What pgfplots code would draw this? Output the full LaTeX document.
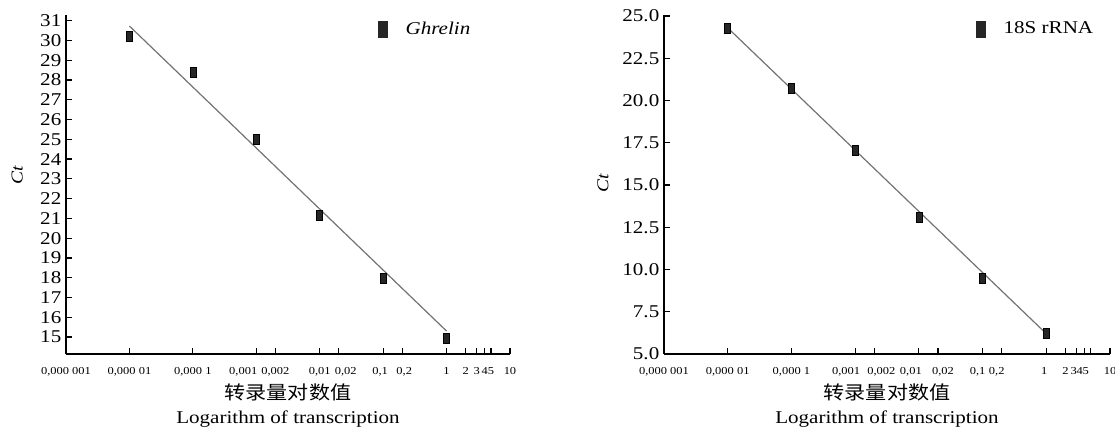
\documentclass[border=0pt]{standalone}
\usepackage{fontspec}
\setmainfont{Liberation Serif}[FakeStretch=1.17]
\newfontfamily\cjk{Noto Sans CJK SC}[FakeStretch=1.13]
\usepackage{pgfplots}
\pgfplotsset{compat=1.18}
\pgfkeys{/pgf/number format/assume math mode=true}

% shift a tick label sideways: #1 = twice the shift
\newcommand{\sx}[2]{\makebox[0pt]{\hspace*{#1}#2}}

\begin{document}
\begin{tikzpicture}
\useasboundingbox (0,0) rectangle (836.25pt,320.25pt);

\begin{axis}[
  at={(49.5pt,54.75pt)}, anchor=south west,
  scale only axis, width=333pt, height=254.25pt,
  xmode=log, xmin=1e-6, xmax=10,
  ymin=14.14, ymax=31.29,
  axis x line*=bottom, axis y line*=left,
  axis line style={line width=1.1pt},
  tick align=inside, major tick length=4.5pt,
  tick style={line width=0.9pt, black},
  xtick={1e-6,1e-5,1e-4,1e-3,2e-3,1e-2,2e-2,0.1,0.2,1,2,3,4,5,10},
  minor xtick={},
  ytick={15,16,...,31},
  xticklabels={{0,000 001},{0,000 01},{0,000 1},\sx{-19.5pt}{0,001},{0,002},{0,01},
    \sx{10.5pt}{0,02},\sx{-4.5pt}{0,1},\sx{3pt}{0,2},1,2,3,4,5,10},
  x tick label style={font=\fontsize{8}{9}\selectfont, yshift=-6.3pt},
  y tick label style={font=\fontsize{13.5}{15}\selectfont},
  xlabel={{\cjk\fontsize{14}{18}\selectfont 转录量对数值}\\Logarithm of transcription},
  xlabel style={font=\fontsize{13.5}{18}\selectfont, align=center,
    at={(axis description cs:0.5,0)}, anchor=north, yshift=-22pt, inner sep=0pt},
  ylabel={\itshape Ct},
  ylabel style={at={(axis description cs:-0.110,0.528)}, anchor=center,
    font=\fontsize{12.5}{14}\selectfont},
  legend style={draw=none, fill=none, inner sep=0pt, anchor=west,
    font=\fontsize{13.5}{15}\selectfont, column sep=11.25pt,
    at={(rel axis cs:0.703,0.959)}},
  clip=false,
]
  \addplot[black!55, line width=0.9pt, forget plot] coordinates {(1e-5,30.73) (1,15.3)};
  \addplot[only marks, mark=square*, mark size=3.75pt,
    mark options={xscale=0.6, fill=black!85, draw=none},
    legend image code/.code={\fill[black!85] (0pt,-6pt) rectangle (6.75pt,6pt);}]
    coordinates {
    (1e-5,30.19) (1e-4,28.38) (1e-3,25.0) (1e-2,21.17) (0.1,17.96) (1,14.96)
  };
  \addlegendentry{\itshape Ghrelin}
\end{axis}

\begin{axis}[
  at={(498pt,54.75pt)}, anchor=south west,
  scale only axis, width=334.5pt, height=254.25pt,
  xmode=log, xmin=1e-6, xmax=10,
  ymin=5, ymax=25.06,
  axis x line*=bottom, axis y line*=left,
  axis line style={line width=1.1pt},
  tick align=inside, major tick length=4.5pt,
  tick style={line width=0.9pt, black},
  xtick={1e-6,1e-5,1e-4,1e-3,2e-3,1e-2,2e-2,0.1,0.2,1,2,3,4,5,10},
  minor xtick={},
  ytick={5,7.5,10,12.5,15,17.5,20,22.5,25},
  yticklabels={5.0,7.5,10.0,12.5,15.0,17.5,20.0,22.5,25.0},
  xticklabels={{0,000 001},{0,000 01},{0,000 1},\sx{-13.5pt}{0,001},\sx{10.5pt}{0,002},
    \sx{-12pt}{0,01},\sx{7.5pt}{0,02},\sx{-7.5pt}{0,1},\sx{-7.5pt}{0,2},\sx{-3pt}{1},2,
    \sx{-4.5pt}{3},\sx{-7.5pt}{4},\sx{-7.5pt}{5},10},
  x tick label style={font=\fontsize{8}{9}\selectfont, yshift=-6.3pt},
  y tick label style={font=\fontsize{13.5}{15}\selectfont},
  xlabel={{\cjk\fontsize{14}{18}\selectfont 转录量对数值}\\Logarithm of transcription},
  xlabel style={font=\fontsize{13.5}{18}\selectfont, align=center,
    at={(axis description cs:0.5,0)}, anchor=north, yshift=-22pt, inner sep=0pt},
  ylabel={\itshape Ct},
  ylabel style={at={(axis description cs:-0.137,0.504)}, anchor=center,
    font=\fontsize{12.5}{14}\selectfont},
  legend style={draw=none, fill=none, inner sep=0pt, anchor=west,
    font=\fontsize{13.5}{15}\selectfont, column sep=11.25pt,
    at={(rel axis cs:0.700,0.959)}},
  clip=false,
]
  \addplot[black!55, line width=0.9pt, forget plot] coordinates {(1e-5,24.3) (1,6.2)};
  \addplot[only marks, mark=square*, mark size=3.75pt,
    mark options={xscale=0.6, fill=black!85, draw=none},
    legend image code/.code={\fill[black!85] (0pt,-6pt) rectangle (6.75pt,6pt);}]
    coordinates {
    (1e-5,24.25) (1e-4,20.72) (1e-3,17.07) (1e-2,13.07) (0.1,9.5) (1,6.21)
  };
  \addlegendentry{18S rRNA}
\end{axis}
\end{tikzpicture}
\end{document}
